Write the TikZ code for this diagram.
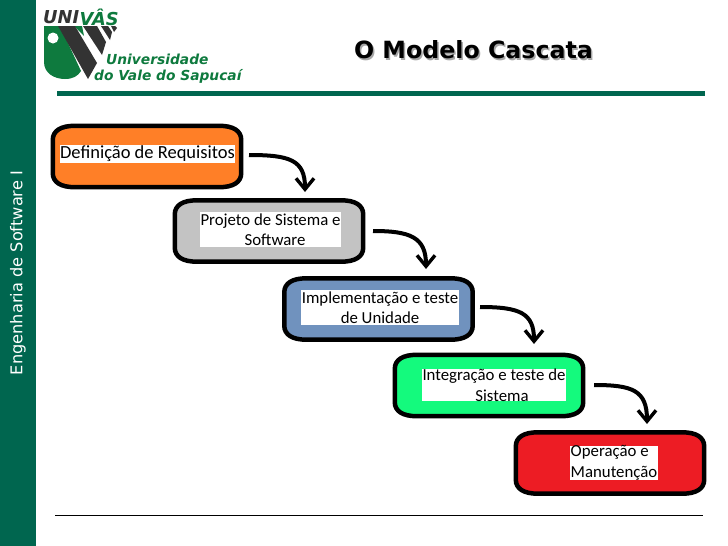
\documentclass[tikz,border=0pt]{standalone}
\usepackage{fontspec}
\setmainfont{Carlito}
\newfontfamily\dejavu{DejaVu Sans}
\usetikzlibrary{arrows.meta}
\definecolor{univasgreen}{HTML}{00664F}
\definecolor{logogreen}{HTML}{0E7A3E}
\definecolor{logodark}{HTML}{333333}
\tikzset{
  stagebox/.style={inner sep=0pt, minimum width=188pt, minimum height=61pt},
  stageline/.style={draw=black, line width=4.5pt},
  labelbox/.style={fill=white, inner sep=0pt, align=center, text=black, font=\fontsize{16.8}{20.5}\selectfont},
  flowarrow/.style={line width=4pt, -{Straight Barb[length=11pt,width=18pt,line width=3.4pt]}},
  logotext/.style={anchor=west, inner sep=0pt, text=logogreen, font=\dejavu\bfseries\itshape\fontsize{13.8}{15}\selectfont},
  logobig/.style={anchor=west, inner sep=0pt, font=\dejavu\bfseries\itshape\fontsize{17.8}{19}\selectfont},
}
% outline with flattened corners round a named stage node
\newcommand{\stageoutline}[2]{%
  \draw[stageline, fill=#2]
    ([shift={(0,14)}]#1.north west) .. controls +(0,-9) and +(-14,0) .. ([shift={(22,0)}]#1.north west)
    -- ([shift={(-22,0)}]#1.north east) .. controls +(14,0) and +(0,-9) .. ([shift={(0,14)}]#1.north east)
    -- ([shift={(0,-14)}]#1.south east) .. controls +(0,9) and +(14,0) .. ([shift={(-22,0)}]#1.south east)
    -- ([shift={(22,0)}]#1.south west) .. controls +(-14,0) and +(0,9) .. ([shift={(0,-14)}]#1.south west)
    -- cycle;}
\begin{document}
\begin{tikzpicture}[x=1pt, y=-1pt]

  %% page furniture
  \fill[white] (0,0) rectangle (728,546);
  \fill[univasgreen] (0,0) rectangle (36,546);
  \fill[univasgreen] (57,91) rectangle (705,96);
  \draw[line width=0.8pt] (55,515.5) -- (703,515.5);
  \node[rotate=90, text=white, font=\dejavu\fontsize{16.2}{18}\selectfont] (sidebar) at (18,273) {Engenharia de Software I};

  %% logo
  \fill[logogreen] (44,26) -- (44,62) .. controls (44,73) and (54,79) .. (65,79) .. controls (73,79) and (78,76) .. (81,71) -- (60,26) -- cycle;
  \fill[logogreen] (74,26) -- (82,26) -- (84,36) -- cycle;
  \fill[white] (53,38) circle (5.5);
  \fill[logodark] (58,26) -- (75,26) -- (97,63) -- (88,79) -- cycle;
  \fill[logodark] (83,26) -- (97,26) -- (106,42) -- (102,55) -- cycle;
  \fill[logodark] (101,26) -- (108,26) -- (112,32) -- (110,40) -- cycle;
  \fill[logodark] (111,26) -- (115,26) -- (117,28) -- (114,32) -- cycle;
  \node[logobig, text=logodark] (uni) at (43,17) {UNI};
  \node[logobig, text=logogreen] (vas) at (uni.east) {VÂS};
  \node[logotext] (univ) at (106,59) {Universidade};
  \node[logotext] (vale) at (94,76) {do Vale do Sapucaí};

  %% title
  \node[text=black!35, font=\dejavu\bfseries\fontsize{23.7}{28}\selectfont] at (475,51.5) {O Modelo Cascata};
  \node[font=\dejavu\bfseries\fontsize{23.7}{28}\selectfont] (title) at (473.5,50) {O Modelo Cascata};

  %% stages
  \node[stagebox] (req) at (147,156.5) {};
  \node[stagebox] (proj) at (269,231) {};
  \node[stagebox] (impl) at (378.5,309) {};
  \node[stagebox] (integ) at (489,385.5) {};
  \node[stagebox] (oper) at (610,463) {};
  \stageoutline{req}{{rgb,255:red,255;green,127;blue,39}}
  \stageoutline{proj}{{rgb,255:red,195;green,195;blue,195}}
  \stageoutline{impl}{{rgb,255:red,112;green,146;blue,190}}
  \stageoutline{integ}{{rgb,255:red,20;green,250;blue,125}}
  \stageoutline{oper}{{rgb,255:red,237;green,28;blue,36}}

  \node[labelbox, minimum width=175pt, minimum height=18pt, font=\fontsize{18.5}{20.5}\selectfont] (reqtxt) at (147.5,154) {Definição de Requisitos};
  \node[labelbox, minimum width=141pt, minimum height=35pt] (projtxt) at (270.5,229.5) {Projeto de Sistema e\\\hspace*{9pt}Software};
  \node[labelbox, minimum width=158pt, minimum height=35pt] (impltxt) at (380,307.5) {Implementação e teste\\de Unidade};
  \node[labelbox, minimum width=144pt, minimum height=32pt] (integtxt) at (494,385) {Integração e teste de\\\hspace*{16pt}Sistema};
  \node[labelbox, minimum width=88pt, minimum height=34pt, align=left] (opertxt) at (614,463) {Operação e\\Manutenção};

  %% arrows
  \coordinate (a1) at (249,155);
  \coordinate (b1) at (305,192);
  \coordinate (a2) at (373,231);
  \coordinate (b2) at (426,269);
  \coordinate (a3) at (480,307);
  \coordinate (b3) at (534,344);
  \coordinate (a4) at (594,385);
  \coordinate (b4) at (647,424);
  \draw[flowarrow] (a1) .. controls (290,155) and (305,160) .. (b1);
  \draw[flowarrow] (a2) .. controls (410,231) and (426,237) .. (b2);
  \draw[flowarrow] (a3) .. controls (520,307) and (534,313) .. (b3);
  \draw[flowarrow] (a4) .. controls (632,385) and (647,390) .. (b4);

  \pgfresetboundingbox
  \path[use as bounding box] (0,0) rectangle (728,546);
\end{tikzpicture}
\end{document}
